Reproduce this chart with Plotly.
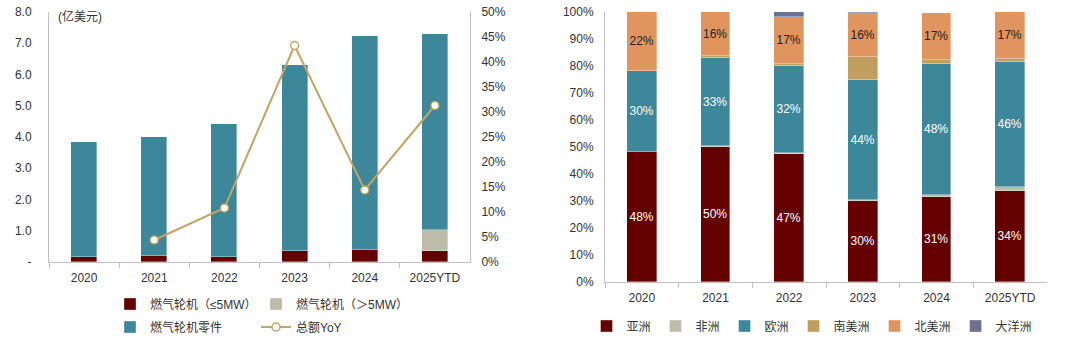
import plotly.graph_objects as go

# ---------------- data ----------------
years = ["2020", "2021", "2022", "2023", "2024", "2025YTD"]

# left chart (亿美元)
gt_small = [0.16, 0.19, 0.15, 0.34, 0.40, 0.34]      # 燃气轮机（≤5MW）
gt_large = [0.00, 0.00, 0.00, 0.00, 0.00, 0.67]      # 燃气轮机（>5MW）
gt_parts = [3.68, 3.81, 4.27, 5.97, 6.82, 6.29]      # 燃气轮机零件
yoy = [None, 4.4, 10.8, 43.3, 14.4, 31.3]            # 总额YoY (%)

# right chart (share, %)
asia = [48.0, 50.0, 47.3, 30.0, 31.4, 33.6]
africa = [0.3, 0.3, 0.3, 0.3, 0.8, 1.6]
europe = [29.7, 32.8, 32.3, 44.4, 48.4, 46.4]
s_america = [0.0, 0.5, 1.0, 8.5, 1.6, 0.9]
n_america = [22.0, 16.4, 17.4, 16.4, 17.4, 17.4]
oceania = [0.0, 0.0, 1.7, 0.4, 0.1, 0.1]

left_yticks = [0, 1, 2, 3, 4, 5, 6, 7, 8]
left_yticktext = ["-", "1.0", "2.0", "3.0", "4.0", "5.0", "6.0", "7.0", "8.0"]
yoy_ticks = [0, 5, 10, 15, 20, 25, 30, 35, 40, 45, 50]
share_ticks = [0, 10, 20, 30, 40, 50, 60, 70, 80, 90, 100]

# ---------------- style ----------------
FONT = "Liberation Sans, Arial, Noto Sans CJK SC, sans-serif"
C_RED = "#650000"
C_GRAY = "#BDBBAA"
C_TEAL = "#3C889A"
C_TAN = "#C19E5E"
C_ORANGE = "#E0955E"
C_NAVY = "#6B7090"
C_LINE = "#C3A463"
AX = "#BFBFBF"
TXT = "#333333"
EDGE = dict(color="rgba(255,255,255,0.6)", width=0.6)

fig = go.Figure()

# ---------------- left chart ----------------
fig.add_bar(x=years, y=gt_small, name="燃气轮机（≤5MW）", marker=dict(color=C_RED, line=EDGE),
            width=0.37, xaxis="x", yaxis="y", legend="legend")
fig.add_bar(x=years, y=gt_large, name="燃气轮机（＞5MW）", marker=dict(color=C_GRAY, line=EDGE),
            width=0.37, xaxis="x", yaxis="y", legend="legend")
fig.add_bar(x=years, y=gt_parts, name="燃气轮机零件", marker=dict(color=C_TEAL, line=EDGE),
            width=0.37, xaxis="x", yaxis="y", legend="legend3")
fig.add_scatter(x=years, y=yoy, name="总额YoY", mode="lines+markers",
                line=dict(color=C_LINE, width=2),
                marker=dict(color="white", size=8, line=dict(color=C_LINE, width=1.5)),
                xaxis="x", yaxis="y2", legend="legend3")

# ---------------- right chart ----------------
def pct_text(vals):
    return [f"{round(v)}%" for v in vals]

right_series = [
    ("亚洲", asia, C_RED, True, "white"),
    ("非洲", africa, C_GRAY, False, None),
    ("欧洲", europe, C_TEAL, True, "white"),
    ("南美洲", s_america, C_TAN, False, None),
    ("北美洲", n_america, C_ORANGE, True, "#222222"),
    ("大洋洲", oceania, C_NAVY, False, None),
]
for name, vals, col, lab, tcol in right_series:
    kw = {}
    if lab:
        kw = dict(text=pct_text(vals), textposition="inside", insidetextanchor="middle",
                  textangle=0, constraintext="none",
                  textfont=dict(color=tcol, size=12, family=FONT))
    fig.add_bar(x=years, y=vals, name=name, marker=dict(color=col, line=EDGE),
                width=0.4, xaxis="x2", yaxis="y3", legend="legend2", **kw)

# ---------------- layout ----------------
W, H = 1080, 345
def px_x(p):
    return p / W
def px_y(p):
    return (H - p) / H

TF = dict(size=12, color=TXT)
fig.update_layout(
    width=W, height=H,
    margin=dict(l=0, r=0, t=0, b=0, autoexpand=False),
    paper_bgcolor="white", plot_bgcolor="white",
    barmode="stack",
    bargap=0,
    font=dict(family=FONT, size=12, color=TXT),
    showlegend=True,
    xaxis=dict(domain=[px_x(49), px_x(470)], anchor="y", type="category", automargin=False,
               showline=True, linecolor=AX, linewidth=1,
               ticks="outside", tickson="boundaries", ticklen=5, tickcolor=AX,
               ticklabelstandoff=5, showgrid=False, tickfont=TF),
    yaxis=dict(domain=[px_y(262), px_y(12)], anchor="x", range=[0, 8], automargin=False,
               tickvals=left_yticks, ticktext=left_yticktext,
               showline=True, linecolor=AX, linewidth=1, showgrid=False, zeroline=False,
               ticks="", ticklabelstandoff=14, tickfont=TF),
    yaxis2=dict(overlaying="y", side="right", anchor="x", range=[0, 50], automargin=False,
                tickvals=yoy_ticks, ticktext=[f"{v}%" for v in yoy_ticks],
                showline=True, linecolor=AX, linewidth=1, showgrid=False, zeroline=False,
                ticks="", ticklabelstandoff=8, tickfont=TF),
    xaxis2=dict(domain=[px_x(605), px_x(1047)], anchor="y3", type="category", automargin=False,
                showline=True, linecolor=AX, linewidth=1,
                ticks="outside", tickson="boundaries", ticklen=5, tickcolor=AX,
                ticklabelstandoff=5, showgrid=False, tickfont=TF),
    yaxis3=dict(domain=[px_y(282), px_y(12)], anchor="x2", range=[0, 100], automargin=False,
                tickvals=share_ticks, ticktext=[f"{v}%" for v in share_ticks],
                showline=True, linecolor=AX, linewidth=1, showgrid=False, zeroline=False,
                ticks="", ticklabelstandoff=8, tickfont=TF),
    legend=dict(orientation="h", x=px_x(110), xanchor="left", y=px_y(304), yanchor="middle",
                traceorder="normal", entrywidth=101, font=TF, bgcolor="rgba(0,0,0,0)"),
    legend3=dict(orientation="h", x=px_x(110), xanchor="left", y=px_y(327), yanchor="middle",
                 traceorder="normal", entrywidth=101, font=TF, bgcolor="rgba(0,0,0,0)"),
    legend2=dict(orientation="h", x=px_x(812), xanchor="center", y=px_y(326), yanchor="middle",
                 traceorder="normal", font=TF, itemwidth=30, bgcolor="rgba(0,0,0,0)"),
    annotations=[dict(text="(亿美元)", xref="paper", yref="paper", x=px_x(56), y=px_y(16),
                      xanchor="left", yanchor="middle", showarrow=False, font=TF)],
)

fig.write_html("out.html")
